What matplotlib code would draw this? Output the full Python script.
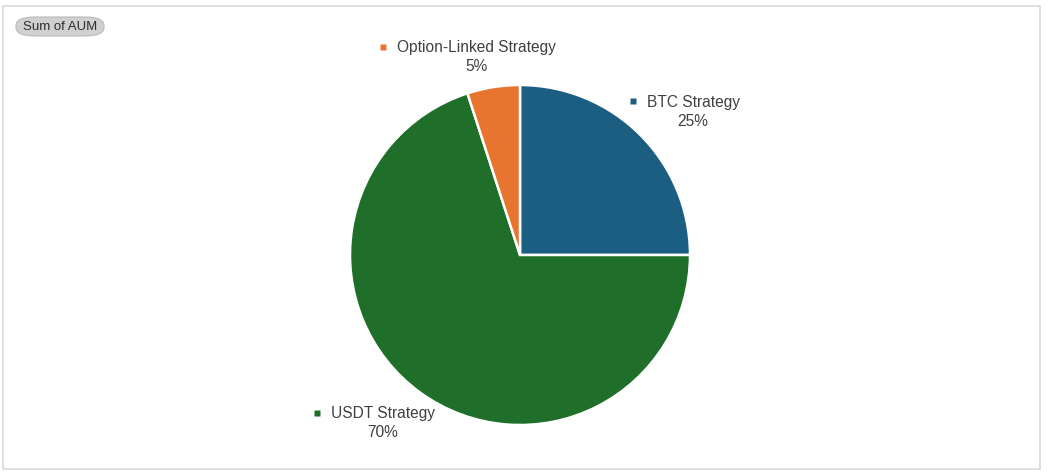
import numpy as np
import matplotlib
matplotlib.use('Agg')
import matplotlib.pyplot as plt
from matplotlib.patches import Rectangle, FancyBboxPatch

# data
labels = ['BTC Strategy', 'USDT Strategy', 'Option-Linked Strategy']
shares = [25, 70, 5]
colors = ['#1b5e82', '#1f6e2a', '#e8752f']
title = 'Sum of AUM'

plt.rcParams['font.family'] = ['Liberation Sans', 'DejaVu Sans']
textcol = '#404040'

fig = plt.figure(figsize=(10.52, 4.77), dpi=100)
W, H = 1052, 477
cx, cy, R = 520, 256, 170  # pie centre / radius in pixels

ax = fig.add_axes([0, 0, 1, 1])

wedges, _ = ax.pie(shares, colors=colors, startangle=90, counterclock=False,
                   radius=1, wedgeprops=dict(edgecolor='white', linewidth=1.8))

# pie() resets the limits, so set them afterwards
ax.set_xlim(-cx / R, (W - cx) / R)
ax.set_ylim(-(H - cy) / R, cy / R)
ax.set_aspect('equal')
ax.axis('off')

# labels placed round the pie at each wedge's middle angle
total = sum(shares)
start = 90.0
offsets = {0: (0.17, 0.0), 1: (-0.1, -0.012), 2: (-0.07, -0.015)}
for i, (lab, v) in enumerate(zip(labels, shares)):
    span = 360.0 * v / total
    mid = np.deg2rad(start - span / 2)
    start -= span
    x = 1.2 * np.cos(mid) + offsets[i][0]
    y = 1.2 * np.sin(mid) + offsets[i][1]
    t = ax.text(x, y + 0.055, lab, ha='center', va='center', fontsize=11.2, color=textcol)
    ax.text(x, y - 0.055, '%d%%' % round(100 * v / total), ha='center', va='center',
            fontsize=11.2, color=textcol)
    fig.canvas.draw()
    bb = t.get_window_extent()
    inv = ax.transData.inverted()
    lx, ly = inv.transform((bb.x0 - 14, (bb.y0 + bb.y1) / 2))
    ax.plot(lx, ly, marker='s', ms=4, color=colors[i], mec='none')

# outer frame
fig.patches.append(Rectangle((3 / W, 1 - 470 / H), 1037 / W, 463 / H, transform=fig.transFigure,
                             fill=False, edgecolor='#d9d9d9', linewidth=1.2))

# field button
fig.patches.append(FancyBboxPatch((16 / W, 1 - 37 / H), 88 / W, 19 / H,
                                  boxstyle='round,pad=0,rounding_size=0.018',
                                  transform=fig.transFigure, facecolor='#d0d0d0',
                                  edgecolor='#bababa', linewidth=0.8))
fig.text(60 / W, 1 - 27.5 / H, title, ha='center', va='center', fontsize=9.5, color='#2e2e2e')

fig.savefig('out.png', dpi=100)
